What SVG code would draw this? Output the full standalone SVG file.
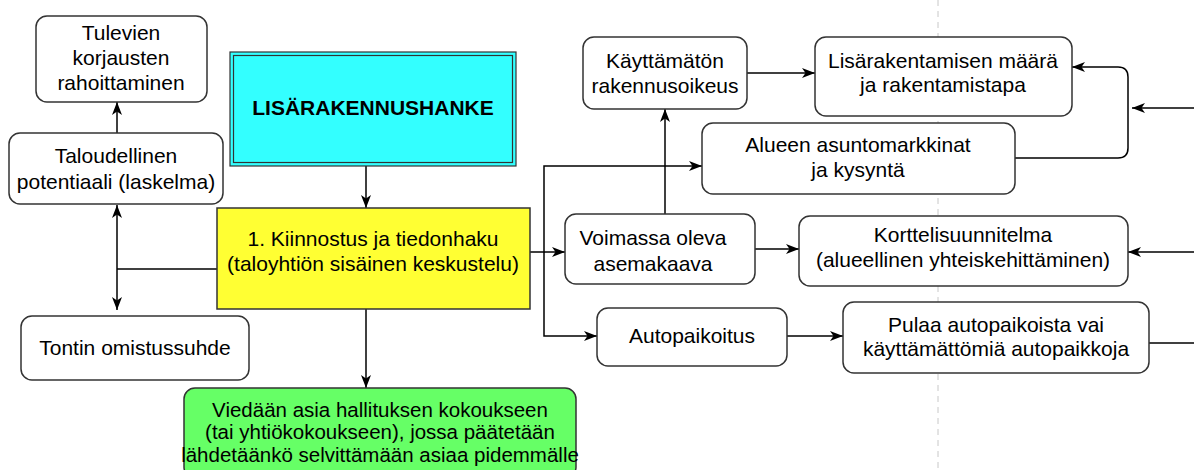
<svg xmlns="http://www.w3.org/2000/svg" width="1194" height="470" viewBox="0 0 1194 470">
<style>
.box{fill:#fff;stroke:#333;stroke-width:1.5}
.t{font-family:"Liberation Sans",Arial,sans-serif;font-size:21px;fill:#000;text-anchor:middle}
.g{font-size:20.5px}
.c{fill:none;stroke:#000;stroke-width:1.5}
</style>
<defs>
<marker id="ar" markerUnits="userSpaceOnUse" markerWidth="14" markerHeight="14" viewBox="0 0 14 14" refX="13" refY="7" orient="auto">
<path d="M0,2 L13,7 L0,12 L3.5,7 Z" fill="#000"/>
</marker>
</defs>
<rect width="1194" height="470" fill="#fff"/>
<line x1="938" y1="0" x2="938" y2="470" stroke="#c8c8c8" stroke-width="1" stroke-dasharray="6 5"/>

<g id="connectors">
<path class="c" d="M366,152 V208" marker-end="url(#ar)"/>
<path class="c" d="M366,309 V388" marker-end="url(#ar)"/>
<path class="c" d="M217,269 H117"/>
<path class="c" d="M117,269 V205" marker-end="url(#ar)"/>
<path class="c" d="M117,269 V310" marker-end="url(#ar)"/>
<path class="c" d="M117,133 V102" marker-end="url(#ar)"/>
<path class="c" d="M530,252 H544 V166 H702" marker-end="url(#ar)"/>
<path class="c" d="M544,252 H565" marker-end="url(#ar)"/>
<path class="c" d="M544,252 V336 H597" marker-end="url(#ar)"/>
<path class="c" d="M665,214 V109" marker-end="url(#ar)"/>
<path class="c" d="M747,73 H815" marker-end="url(#ar)"/>
<path class="c" d="M1015,158 H1118 Q1128,158 1128,148 V77 Q1128,67 1118,67 H1072" marker-end="url(#ar)"/>
<path class="c" d="M1194,108 H1132" marker-end="url(#ar)"/>
<path class="c" d="M755,249 H799" marker-end="url(#ar)"/>
<path class="c" d="M1194,252 H1128" marker-end="url(#ar)"/>
<path class="c" d="M787,336 H843" marker-end="url(#ar)"/>
<path class="c" d="M1149,343 H1194"/>
</g>

<g id="tulevien">
<rect class="box" x="36" y="16" width="171" height="86" rx="11"/>
<text class="t" x="121" y="40">Tulevien</text>
<text class="t" x="121" y="65">korjausten</text>
<text class="t" x="121" y="90">rahoittaminen</text>
</g>
<g id="taloudellinen">
<rect class="box" x="9" y="133" width="214" height="71" rx="11"/>
<text class="t" x="116" y="163">Taloudellinen</text>
<text class="t" x="116" y="189">potentiaali (laskelma)</text>
</g>
<g id="lisarakennushanke">
<rect x="230" y="52" width="286" height="114" fill="#33ffff" stroke="#333" stroke-width="1.2"/>
<rect x="233.5" y="55.5" width="279" height="107" fill="none" stroke="#333" stroke-width="1.2"/>
<text class="t" x="373" y="115" font-weight="bold">LISÄRAKENNUSHANKE</text>
</g>
<g id="kiinnostus">
<rect x="217" y="208" width="313" height="101" fill="#ffff33" stroke="#333" stroke-width="1.5"/>
<text class="t" x="373" y="246">1. Kiinnostus ja tiedonhaku</text>
<text class="t" x="373" y="271">(taloyhtiön sisäinen keskustelu)</text>
</g>
<g id="tontin">
<rect class="box" x="21" y="316" width="228" height="64" rx="11"/>
<text class="t" x="135" y="355">Tontin omistussuhde</text>
</g>
<g id="viedaan">
<rect x="184" y="388" width="392" height="90" rx="11" fill="#66ff66" stroke="#333" stroke-width="1.5"/>
<text class="t g" x="380" y="417">Viedään asia hallituksen kokoukseen</text>
<text class="t g" x="380" y="439">(tai yhtiökokoukseen), jossa päätetään</text>
<text class="t g" x="380" y="462">lähdetäänkö selvittämään asiaa pidemmälle</text>
</g>
<g id="kayttamaton">
<rect class="box" x="583" y="37" width="164" height="72" rx="11"/>
<text class="t" x="665" y="68">Käyttämätön</text>
<text class="t" x="665" y="93">rakennusoikeus</text>
</g>
<g id="lisarakentamisen">
<rect class="box" x="815" y="37" width="257" height="79" rx="11"/>
<text class="t" x="943" y="68">Lisärakentamisen määrä</text>
<text class="t" x="943" y="92">ja rakentamistapa</text>
</g>
<g id="alueen">
<rect class="box" x="702" y="123" width="313" height="71" rx="11"/>
<text class="t" x="858" y="152">Alueen asuntomarkkinat</text>
<text class="t" x="858" y="177">ja kysyntä</text>
</g>
<g id="voimassa">
<rect class="box" x="565" y="214" width="190" height="70" rx="11"/>
<text class="t" x="653" y="245">Voimassa oleva</text>
<text class="t" x="653" y="271">asemakaava</text>
</g>
<g id="kortteli">
<rect class="box" x="799" y="216" width="329" height="70" rx="11"/>
<text class="t" x="963" y="242">Korttelisuunnitelma</text>
<text class="t" x="963" y="267">(alueellinen yhteiskehittäminen)</text>
</g>
<g id="autopaikoitus">
<rect class="box" x="597" y="308" width="190" height="58" rx="11"/>
<text class="t" x="692" y="343">Autopaikoitus</text>
</g>
<g id="pulaa">
<rect class="box" x="843" y="302" width="306" height="71" rx="11"/>
<text class="t" x="996" y="332">Pulaa autopaikoista vai</text>
<text class="t" x="996" y="356">käyttämättömiä autopaikkoja</text>
</g>
</svg>
